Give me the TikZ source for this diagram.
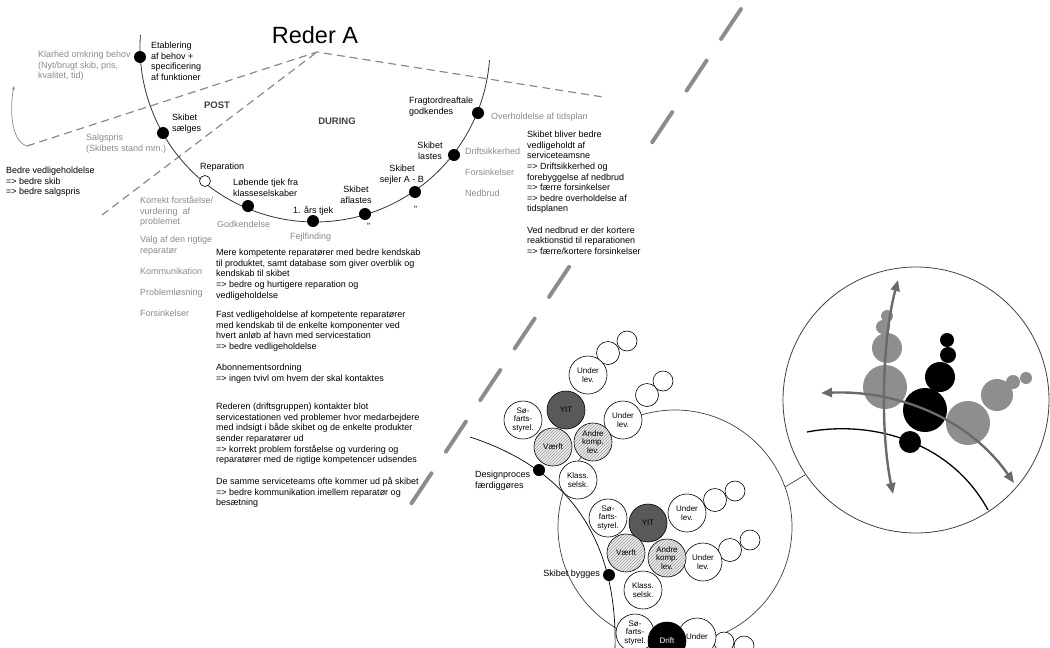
\documentclass[tikz,border=0pt]{standalone}
\usepackage{fontspec}
\setmainfont{Liberation Sans}
\usetikzlibrary{arrows.meta,patterns,calc}
\definecolor{txtgray}{HTML}{8A8A8A}
\definecolor{dashgray}{HTML}{8A8A8A}
\definecolor{divgray}{HTML}{8C8C8C}
\definecolor{yitgray}{HTML}{595959}
\definecolor{detgray}{HTML}{8E8E8E}
\definecolor{arrowgray}{HTML}{6A6A6A}
\begin{document}
\begin{tikzpicture}[x=1pt,y=-1pt,
  lbl/.style={font=\fontsize{9}{10.6}\selectfont, align=left, inner sep=0pt, text=black, anchor=north west},
  glbl/.style={lbl, text=txtgray},
  clbl/.style={lbl, align=center, anchor=north},
  dot/.style={circle, fill=black, minimum size=12pt, inner sep=0pt},
  odot/.style={circle, draw=black, fill=white, line width=0.6pt, minimum size=11pt, inner sep=0pt},
  dsh/.style={draw=dashgray, line width=1.2pt, dash pattern=on 8pt off 5pt},
  cl/.style={circle, draw=black, line width=0.6pt, fill=white, minimum size=38pt, inner sep=0pt, align=center, font=\fontsize{8}{8.6}\selectfont},
  yit/.style={cl, fill=yitgray},
  hat/.style={cl, preaction={fill=gray!15}, pattern=north east lines, pattern color=gray!75},
  sm/.style={circle, draw=black, line width=0.6pt, fill=white, minimum size=23pt, inner sep=0pt},
  smm/.style={sm, minimum size=20pt},
  arr/.style={draw=arrowgray, line width=2.4pt, {Triangle[length=11pt,width=9pt]}-{Triangle[length=11pt,width=9pt]}}
]
\useasboundingbox (0,0) rectangle (1050,648);

% big dashed divider
\coordinate (dvA) at (741,9);
\coordinate (dvB) at (409,507);
\draw[divgray, line width=4pt, line cap=round, dash pattern=on 36pt off 26pt] (dvA) -- (dvB);

% thin dashed lines
\coordinate (apex) at (317,52);
\coordinate (lp) at (27,146);
\coordinate (l2) at (102,215);
\coordinate (r1) at (603,97);
\draw[dsh] (lp) -- (apex) -- (r1);
\draw[dsh] (l2) -- (apex);
\coordinate (lpt) at (14,86);
\draw[txtgray, line width=0.7pt, -{Stealth[length=4pt,width=3pt]}] (lp) .. controls (12,142) and (9,112) .. (lpt);

% lifecycle arc
\draw[black!80, line width=0.8pt] plot[domain=4.3:183.9, samples=90, smooth] ({315+175*cos(\x)},{47+175*sin(\x)});

\node[dot] (d1) at (140,57) {};
\node[dot] (d2) at (163,133) {};
\node[odot] (d3) at (205,181) {};
\node[dot] (d4) at (248,206) {};
\node[dot] (d5) at (313,221) {};
\node[dot] (d6) at (365,214) {};
\node[dot] (d7) at (415,192) {};
\node[dot] (d8) at (454,155) {};
\node[dot] (d9) at (478,113) {};

% title and phases
\node[font=\fontsize{23.5}{26}\selectfont, inner sep=0pt] (title) at (315,35) {Reder A};
\node[font=\bfseries\fontsize{9.5}{11}\selectfont, text=black!75, inner sep=0pt] (post) at (217,105) {POST};
\node[font=\bfseries\fontsize{9.5}{11}\selectfont, text=black!75, inner sep=0pt] (during) at (337,121) {DURING};

% labels on arc
\node[lbl] (t1) at (151,42) {Etablering\\af behov +\\specificering\\af funktioner};
\node[lbl] (t2) at (172,114) {Skibet\\sælges};
\node[lbl] (t3) at (200,163) {Reparation};
\node[lbl] (t4) at (233,179) {Løbende tjek fra\\klasseselskaber};
\node[lbl] (t5) at (293,206) {1. års tjek};
\node[clbl] (t6) at (356,186) {Skibet\\aflastes};
\node[lbl] (t6b) at (367,223) {''};
\node[clbl] (t7) at (402,165) {Skibet\\sejler A - B};
\node[lbl] (t7b) at (414,206) {''};
\node[clbl] (t8) at (430,142) {Skibet\\lastes};
\node[lbl] (t9) at (409,97) {Fragtordreaftale\\godkendes};

% gray labels
\node[glbl] (g1) at (38,51) {Klarhed omkring behov\\(Nyt/brugt skib, pris,\\kvalitet, tid)};
\node[glbl] (g2) at (86,134) {Salgspris\\(Skibets stand mm.)};
\node[glbl] (g3) at (140,196) {Korrekt forståelse/\\vurdering\ \ af\\problemet};
\node[glbl] (g4) at (140,236) {Valg af den rigtige\\reparatør};
\node[glbl] (g5) at (140,268) {Kommunikation};
\node[glbl] (g6) at (140,289) {Problemløsning};
\node[glbl] (g7) at (140,310) {Forsinkelser};
\node[glbl] (g8) at (217,221) {Godkendelse};
\node[glbl] (g9) at (290,233) {Fejlfinding};
\node[glbl] (g10) at (465,148) {Driftsikkerhed};
\node[glbl] (g11) at (465,169) {Forsinkelser};
\node[glbl] (g12) at (465,190) {Nedbrud};
\node[glbl] (g13) at (491,113) {Overholdelse af tidsplan};

\node[lbl] (b1) at (6,167) {Bedre vedligeholdelse\\=> bedre skib\\=> bedre salgspris};

% right text block
\node[lbl, fill=white, inner sep=1pt] (rb) at (526,130) {Skibet bliver bedre\\vedligeholdt af\\serviceteamsne\\=> Driftsikkerhed og\\forebyggelse af nedbrud\\=> færre forsinkelser\\=> bedre overholdelse af\\tidsplanen\\[10.6pt]Ved nedbrud er der kortere\\reaktionstid til reparationen\\=> færre/kortere forsinkelser};

% main text block
\node[lbl] (p1) at (216,249) {Mere kompetente reparatører med bedre kendskab\\til produktet, samt database som giver overblik og\\kendskab til skibet\\=> bedre og hurtigere reparation og\\vedligeholdelse};
\node[lbl] (p2) at (216,311) {Fast vedligeholdelse af kompetente reparatører\\med kendskab til de enkelte komponenter ved\\hvert anløb af havn med servicestation\\=> bedre vedligeholdelse};
\node[lbl] (p3) at (216,364) {Abonnementsordning\\=> ingen tvivl om hvem der skal kontaktes};
\node[lbl] (p4) at (216,403) {Rederen (driftsgruppen) kontakter blot\\servicestationen ved problemer hvor medarbejdere\\med indsigt i både skibet og de enkelte produkter\\sender reparatører ud\\=> korrekt problem forståelse og vurdering og\\reparatører med de rigtige kompetencer udsendes};
\node[lbl] (p5) at (216,477) {De samme serviceteams ofte kommer ud på skibet\\=> bedre kommunikation imellem reparatør og\\besætning};

% ---------------- right part ----------------
\node[circle, draw=black!75, line width=0.7pt, minimum size=234pt, inner sep=0pt] (zA) at (675,527) {};

\coordinate (c1s) at (470,437);
\coordinate (c1e) at (615,650);
\draw[black, line width=0.7pt] (c1s) .. controls (565,468) and (618,535) .. (c1e);

% cluster 1
\node[cl] (s1) at (523,420) {Sø-\\farts-\\styrel.};
\node[sm] (a1) at (608,353) {};
\node[smm] (a2) at (627,341) {};
\node[cl] (u1) at (588,375) {Under\\lev.};
\node[yit] (y1) at (566,410) {YIT};
\node[sm] (b1a) at (647,395) {};
\node[smm] (b1b) at (663,381) {};
\node[cl] (u2) at (623,420) {Under\\lev.};
\node[hat] (k1) at (593,442) {Andre\\komp.\\lev.};
\node[hat] (v1) at (553,447) {Værft};
\node[cl] (ks1) at (578,480) {Klass.\\selsk.};

% cluster 2
\node[cl] (s2) at (608,518) {Sø-\\farts-\\styrel.};
\node[sm] (a3) at (715,500) {};
\node[smm] (a4) at (735,491) {};
\node[cl] (u3) at (687,513) {Under\\lev.};
\node[yit] (y2) at (648,523) {YIT};
\node[sm] (b3a) at (730,550) {};
\node[smm] (b3b) at (750,540) {};
\node[cl] (u4) at (703,562) {Under\\lev.};
\node[hat] (k2) at (667,558) {Andre\\komp.\\lev.};
\node[hat] (v2) at (626,553) {Værft};
\node[cl] (ks2) at (643,590) {Klass.\\selsk.};

% cluster 3 (cut)
\node[cl] (s3) at (635,633) {Sø-\\farts-\\styrel.};
\node[smm] (c3a) at (724,642) {};
\node[smm] (c3b) at (744,646) {};
\node[cl] (u5) at (697,637) {Under};
\node[cl, fill=black, text=white] (y3) at (667,641) {Drift};

% dots on curve
\node[dot] (dd1) at (539,470) {};
\node[dot] (dd2) at (609,575) {};
\node[lbl] (td1) at (475,471) {Designproces\\færdiggøres};
\node[lbl, anchor=east] (td2) at (600,574) {Skibet bygges};

% detail circle
\node[circle, draw=black!75, line width=0.8pt, minimum size=266pt, inner sep=0pt] (zB) at (916,400) {};
\draw[black!75, line width=0.7pt] (zA.20) -- (zB.214.5);

\fill[detgray] (885,387) circle[radius=22];
\fill[detgray] (887,348) circle[radius=15];
\fill[detgray] (883,327) circle[radius=7];
\fill[detgray] (887,316) circle[radius=6];
\fill[detgray] (968,423) circle[radius=22];
\fill[detgray] (997,395) circle[radius=16];
\fill[detgray] (1013,382) circle[radius=7];
\fill[detgray] (1026,378) circle[radius=6];
\fill[black] (925,410) circle[radius=22];
\fill[black] (940,377) circle[radius=15];
\fill[black] (948,355) circle[radius=8];
\fill[black] (947,340) circle[radius=7];
\fill[black] (910,442) circle[radius=11];

\coordinate (bk1) at (807,432);
\coordinate (bk2) at (988,510);
\draw[black, line width=1.3pt] (bk1) .. controls (870,420) and (950,440) .. (bk2);
\coordinate (va) at (898,280);
\coordinate (vb) at (893,494);
\draw[arr] (va) .. controls (882,340) and (880,430) .. (vb);
\coordinate (ha) at (821,393);
\coordinate (hb) at (1014,483);
\draw[arr] (ha) .. controls (900,390) and (970,420) .. (hb);
\end{tikzpicture}
\end{document}
